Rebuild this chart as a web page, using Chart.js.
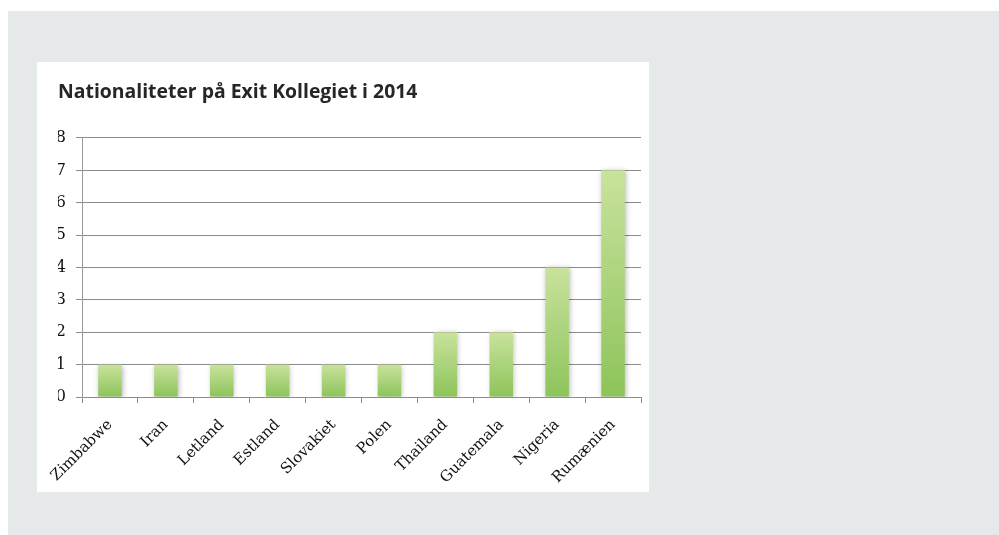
<!DOCTYPE html>
<html>
<head>
<meta charset="utf-8">
<script src="https://cdn.jsdelivr.net/npm/chart.js@4"></script>
<style>
  html, body { margin: 0; padding: 0; background: #ffffff; }
  body { width: 999px; height: 535px; position: relative; overflow: hidden; }
  #panel { position: absolute; left: 8px; top: 11px; width: 991px; height: 524px; background: #e6e9ea; }
  #box { position: absolute; left: 37px; top: 62px; width: 612px; height: 430px; background: #ffffff; }
  #c { display: block; }
</style>
</head>
<body>
<div id="panel"></div>
<div id="box"><canvas id="c" width="612" height="430"></canvas></div>
<script>
const titleText = "Nationaliteter på Exit Kollegiet i 2014";
const categories = ["Zimbabwe", "Iran", "Letland", "Estland", "Slovakiet", "Polen", "Thailand", "Guatemala", "Nigeria", "Rumænien"];
const counts = [1, 1, 1, 1, 1, 1, 2, 2, 4, 7];
const yTicks = [0, 1, 2, 3, 4, 5, 6, 7, 8];

const serif = "'DejaVu Serif', 'Liberation Serif', serif";

function barGradient(ctx) {
  const chart = ctx.chart;
  const y = chart.scales && chart.scales.y;
  if (!chart.chartArea || !y || ctx.type !== 'data') return '#a8d27a';
  const top = y.getPixelForValue(ctx.raw);
  const bottom = y.getPixelForValue(0);
  if (!isFinite(top) || !isFinite(bottom) || top === bottom) return '#a8d27a';
  const g = chart.ctx.createLinearGradient(0, top, 0, bottom);
  g.addColorStop(0, '#c9e29d');
  g.addColorStop(1, '#8dc45a');
  return g;
}

const shadowPlugin = {
  id: 'barShadow',
  beforeDatasetsDraw(chart) {
    const c = chart.ctx;
    c.save();
    c.shadowColor = 'rgba(0,0,0,0.28)';
    c.shadowBlur = 5;
    c.shadowOffsetX = 1;
    c.shadowOffsetY = 1;
  },
  afterDatasetsDraw(chart) {
    chart.ctx.restore();
  }
};

new Chart(document.getElementById('c'), {
  type: 'bar',
  data: {
    labels: categories,
    datasets: [{
      data: counts,
      backgroundColor: barGradient,
      borderWidth: 0,
      categoryPercentage: 1.0,
      barPercentage: 0.42
    }]
  },
  plugins: [shadowPlugin],
  options: {
    responsive: false,
    animation: false,
    events: [],
    layout: { padding: { left: 21, right: 8, top: 0, bottom: 0 } },
    plugins: {
      legend: { display: false },
      tooltip: { enabled: false },
      title: {
        display: true,
        text: titleText,
        align: 'start',
        color: '#262626',
        font: { family: "'Open Sans', 'Noto Sans', sans-serif", size: 19.4, weight: 'bold', lineHeight: 1.2 },
        padding: { top: 19, bottom: 33.7 }
      }
    },
    scales: {
      x: {
        offset: true,
        grid: { display: true, drawOnChartArea: false, drawTicks: true, tickLength: 6, color: '#8c8c8c', offset: true },
        border: { display: true, color: '#8c8c8c', width: 1 },
        ticks: { color: '#111111', font: { family: serif, size: 15 }, minRotation: 45, maxRotation: 45, padding: 13, autoSkip: false },
        afterFit(scale) { scale.height = 95; scale.paddingLeft = 0; scale.paddingRight = 0; }
      },
      y: {
        min: 0,
        max: 8,
        afterBuildTicks(scale) { scale.ticks = yTicks.map(v => ({ value: v })); },
        grid: { color: '#8c8c8c', drawTicks: true, tickLength: 6 },
        border: { display: true, color: '#9a9a9a', width: 1 },
        ticks: { color: '#111111', font: { family: serif, size: 16 }, padding: 10 },
        afterFit(scale) { scale.width = 24; }
      }
    }
  }
});
</script>
</body>
</html>
